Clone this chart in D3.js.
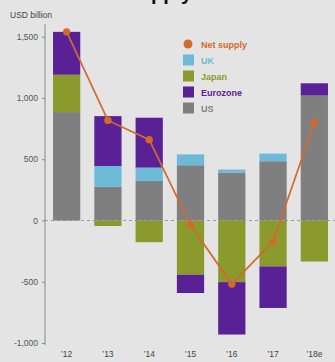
<!DOCTYPE html>
<html><head><meta charset="utf-8">
<script src="https://cdn.jsdelivr.net/npm/d3@7"></script>
<style>
html,body{margin:0;padding:0;background:#e4e4e4;}
svg{display:block;font-family:"Liberation Sans",Arial,sans-serif;}
</style></head>
<body>
<svg id="chart" width="335" height="362"></svg>
<script>
const years = ["’12","’13","’14","’15","’16","’17","’18e"];
const us = [885, 275, 323, 451, 389, 484, 1020];
const uk = [0, 170, 109, 89, 27, 62, 0];
const japan = [305, -45, -177, -443, -503, -375, -335];
const eurozone = [350, 407, 407, -149, -428, -339, 100];
const netSupply = [1540, 817, 660, -37, -519, -172, 800];
const yTicks = [-1000, -500, 0, 500, 1000, 1500];
const seriesKeys = ["US","UK","Japan","Eurozone"];
const colors = {US:"#7f7f7f", UK:"#6cbad8", Japan:"#8a9a2c", Eurozone:"#5a2196", Net:"#d4692c"};

const rows = years.map((y,i)=>({year:y, US:us[i], UK:uk[i], Japan:japan[i], Eurozone:eurozone[i]}));
const svg = d3.select("#chart");

const x = d3.scaleBand().domain(years).range([46,335]).paddingInner(0.34).paddingOuter(0.17);
const y = d3.scaleLinear().domain([-1000,1600]).range([343,24.5]);

// title (cut off at the top edge, as in the reference)
svg.append("text").attr("x",90).attr("y",0).attr("font-size",20).attr("font-weight","bold")
  .attr("fill","#111").text("Net supply");

svg.append("text").attr("x",10).attr("y",18).attr("font-size",8.5).attr("fill","#444").text("USD billion");

// y axis
const yAxis = d3.axisLeft(y).tickValues(yTicks).tickSize(3).tickFormat(d3.format(",.0f"));
const ga = svg.append("g").attr("transform","translate(45,0)").call(yAxis);
ga.select(".domain").attr("stroke","#888").attr("d","M0,24V345");
ga.selectAll(".tick line").attr("stroke","#888");
ga.selectAll(".tick text").attr("font-size",8.5).attr("fill","#555").attr("x",-7)
  .text(d=>d3.format(",.0f")(d).replace("−","-"));

const stack = d3.stack().keys(seriesKeys).offset(d3.stackOffsetDiverging);
const stacked = stack(rows);
svg.append("g").selectAll("g").data(stacked).join("g").attr("fill",d=>colors[d.key])
  .selectAll("rect").data(d=>d).join("rect")
  .attr("x",d=>x(d.data.year)).attr("width",x.bandwidth())
  .attr("y",d=>y(Math.max(d[0],d[1]))).attr("height",d=>Math.abs(y(d[0])-y(d[1])));

// zero line
svg.append("line").attr("x1",45).attr("x2",335).attr("y1",y(0)).attr("y2",y(0))
  .attr("stroke","#8a8a8a").attr("stroke-width",1).attr("stroke-dasharray","3,3").attr("opacity",0.8);

// x labels
svg.append("g").selectAll("text").data(years).join("text")
  .attr("x",d=>x(d)+x.bandwidth()/2).attr("y",357).attr("text-anchor","middle")
  .attr("font-size",8.5).attr("fill","#444").text(d=>d);

// net supply line
const line = d3.line().x((d,i)=>x(years[i])+x.bandwidth()/2).y(d=>y(d));
svg.append("path").datum(netSupply).attr("d",line).attr("fill","none")
  .attr("stroke",colors.Net).attr("stroke-width",1.7);
svg.append("g").selectAll("circle").data(netSupply).join("circle")
  .attr("cx",(d,i)=>x(years[i])+x.bandwidth()/2).attr("cy",d=>y(d)).attr("r",3.7).attr("fill",colors.Net);

// legend
const legend = [
  {label:"Net supply", key:"Net", type:"dot"},
  {label:"UK", key:"UK"},
  {label:"Japan", key:"Japan"},
  {label:"Eurozone", key:"Eurozone"},
  {label:"US", key:"US"}
];
const lg = svg.append("g");
legend.forEach((l,i)=>{
  const cy = 44 + i*16;
  if(l.type==="dot"){
    lg.append("circle").attr("cx",188).attr("cy",cy).attr("r",4.5).attr("fill",colors[l.key]);
  } else {
    lg.append("rect").attr("x",183).attr("y",cy-5.5).attr("width",11).attr("height",11).attr("fill",colors[l.key]);
  }
  lg.append("text").attr("x",201).attr("y",cy+3.5).attr("font-size",9).attr("font-weight",600)
    .attr("fill",colors[l.key]).text(l.label);
});
</script>
</body></html>
